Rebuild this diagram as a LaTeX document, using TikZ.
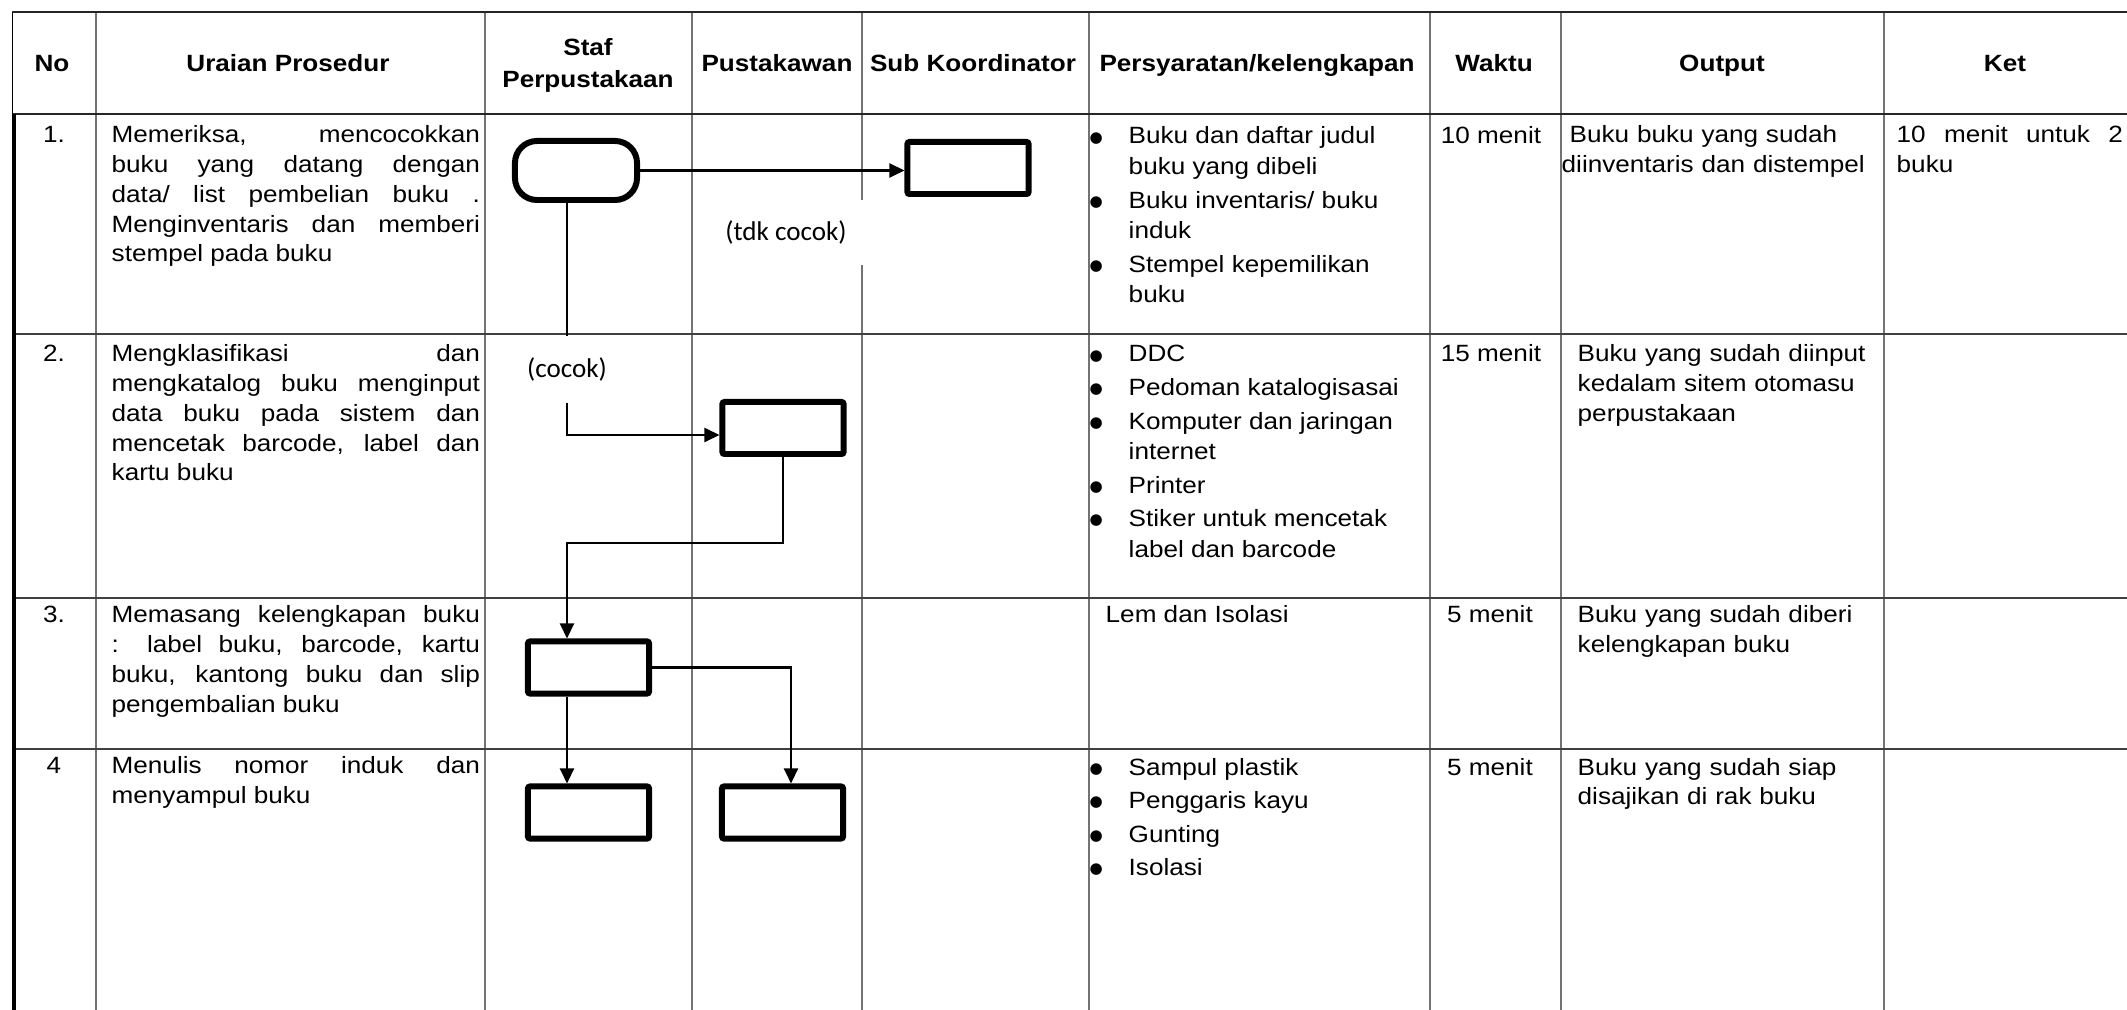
\documentclass[tikz,border=0pt]{standalone}
\usepackage{fontspec}
\setmainfont{Liberation Sans}[FakeStretch=1.11]
\newfontfamily\calfont{Carlito}
\newfontfamily\symfont{DejaVu Sans}
\usetikzlibrary{arrows.meta}
% text sizes used in the table cells
\newcommand\cellfont{\fontsize{6.69pt}{8.45pt}\selectfont}
\newcommand\listfont{\fontsize{6.69pt}{8.68pt}\selectfont}
\newcommand\headfont{\bfseries\fontsize{6.69pt}{9.1pt}\selectfont}
\newcommand\labelfont{\calfont\fontsize{7.7pt}{9pt}\selectfont}
% bullet of the requirement lists
\newcommand\bul{\makebox[0.35cm][l]{\hspace*{-0.04cm}\raisebox{0.5pt}{\symfont\fontsize{4.3pt}{0pt}\selectfont ●}}}
\newcommand\igap{0.85pt}

\begin{document}
\begin{tikzpicture}[x=0.01cm,y=-0.01cm,
  txt/.style={inner sep=0pt, font=\cellfont},
  head/.style={inner sep=0pt, font=\headfont, anchor=base},
  proctext/.style={txt, anchor=base west, text width=3.68cm, align=justify},
  outtext/.style={txt, anchor=base west, text width=3.2cm, align=left},
  listtext/.style={inner sep=0pt, font=\listfont, anchor=base west},
  colline/.style={draw=black!55, line width=0.3pt},
  rowline/.style={draw=black!75, line width=0.4pt},
  frameline/.style={draw=black!85, line width=0.5pt},
  terminal/.style={draw, line width=1.7pt, rounded corners=0.22cm,
    minimum width=1.22cm, minimum height=0.59cm, inner sep=0pt},
  activity/.style={draw, line width=1.7pt, rounded corners=0.02cm,
    minimum width=1.21cm, minimum height=0.52cm, inner sep=0pt},
  lbl/.style={font=\labelfont, fill=white, inner sep=0pt, minimum height=0.65cm},
  link/.style={line width=0.6pt},
  flow/.style={link, -{Triangle[length=0.15cm,width=0.14cm]}}
]
\useasboundingbox (0,0) rectangle (2127,1010);

% ---- table grid ----
\foreach \x in {96,485,692,862,1089,1430,1561,1884}
  \draw[colline] (\x,12) -- (\x,1010);
\foreach \y in {334,598,749}
  \draw[rowline] (12,\y) -- (2127,\y);
\draw[frameline] (12,12) -- (2127,12);
\draw[frameline] (12,114) -- (2127,114);
\draw[line width=0.3pt] (12.3,12) -- (12.3,114);
\draw[line width=0.045cm] (14,114) -- (14,1010);

% ---- header ----
\node[head] (hNo)  at (52,72)   {No};
\node[head] (hUr)  at (288,72)  {Uraian Prosedur};
\node[head, text width=2cm, align=center] (hStaf) at (588,56) {Staf\\Perpustakaan};
\node[head] (hPu)  at (777,72)  {Pustakawan};
\node[head] (hSub) at (973,72)  {Sub Koordinator};
\node[head] (hPer) at (1257,72) {Persyaratan/kelengkapan};
\node[head] (hW)   at (1494,72) {Waktu};
\node[head] (hOut) at (1722,72) {Output};
\node[head] (hKet) at (2005,72) {Ket};

% ---- row numbers ----
\node[txt, anchor=base] (n1) at (54,143) {1.};
\node[txt, anchor=base] (n2) at (54,362) {2.};
\node[txt, anchor=base] (n3) at (54,623) {3.};
\node[txt, anchor=base] (n4) at (54,774) {4};

% ---- procedure descriptions ----
\node[proctext] (u1) at (111,143) {Memeriksa, mencocokkan\linebreak
  buku yang datang dengan\linebreak data/ list pembelian buku .\linebreak
  Menginventaris dan memberi\linebreak stempel pada buku};
\node[proctext] (u2) at (111,362) {Mengklasifikasi dan\linebreak
  mengkatalog buku menginput\linebreak data buku pada sistem dan\linebreak
  mencetak barcode, label dan\linebreak kartu buku};
\node[proctext] (u3) at (111,623) {Memasang kelengkapan buku\linebreak
  : label buku, barcode, kartu\linebreak buku, kantong buku dan slip\linebreak
  pengembalian buku};
\node[proctext] (u4) at (111,774) {Menulis nomor induk dan\linebreak menyampul buku};

% ---- requirements ----
\node[listtext] (p1) at (1093,144) {\begin{tabular}[t]{@{}l@{}l@{}}
  \bul & Buku dan daftar judul\\
       & buku yang dibeli\\[\igap]
  \bul & Buku inventaris/ buku\\
       & induk\\[\igap]
  \bul & Stempel kepemilikan\\
       & buku
  \end{tabular}};
\node[listtext] (p2) at (1093,362) {\begin{tabular}[t]{@{}l@{}l@{}}
  \bul & DDC\\[\igap]
  \bul & Pedoman katalogisasai\\[\igap]
  \bul & Komputer dan jaringan\\
       & internet\\[\igap]
  \bul & Printer\\[\igap]
  \bul & Stiker untuk mencetak\\
       & label dan barcode
  \end{tabular}};
\node[txt, anchor=base west] (p3) at (1105,623) {Lem dan Isolasi};
\node[listtext] (p4) at (1093,775) {\begin{tabular}[t]{@{}l@{}l@{}}
  \bul & Sampul plastik\\[\igap]
  \bul & Penggaris kayu\\[\igap]
  \bul & Gunting\\[\igap]
  \bul & Isolasi
  \end{tabular}};

% ---- time ----
\node[txt, anchor=base] (w1) at (1491,144) {10 menit};
\node[txt, anchor=base] (w2) at (1491,362) {15 menit};
\node[txt, anchor=base] (w3) at (1490,623) {5 menit};
\node[txt, anchor=base] (w4) at (1490,775) {5 menit};

% ---- output ----
\node[outtext] (o1) at (1561,143) {\hspace*{0.08cm}Buku buku yang sudah\\diinventaris dan distempel};
\node[outtext] (o2) at (1577,362) {Buku yang sudah diinput\\kedalam sitem otomasu\\perpustakaan};
\node[outtext] (o3) at (1577,623) {Buku yang sudah diberi\\kelengkapan buku};
\node[outtext] (o4) at (1577,775) {Buku yang sudah siap\\disajikan di rak buku};

% ---- remarks ----
\node[txt, anchor=base west, text width=2.26cm, align=justify] (k1) at (1896,143)
  {10 menit untuk 2\linebreak buku};

% ---- flow symbols ----
\node[terminal] (start) at (576,170.5) {};
\node[activity] (b1) at (968,168) {};
\node[activity] (b2) at (783,428) {};
\node[activity] (b3) at (588.5,667.5) {};
\node[activity] (b4) at (588.5,812.5) {};
\node[activity] (b5) at (782.5,812.5) {};

% ---- branch labels ----
\node[lbl, minimum width=1.56cm] (tdk) at (786,232.5) {(tdk cocok)};
\node[lbl] (cocok) at (567,369.5) {(cocok)};
\coordinate (bend) at (567,543);

% ---- connectors ----
\draw[flow] (start.east) -- (start.east -| b1.west);
\draw[link] (start.south -| cocok.north) -- (cocok.north);
\draw[flow] (cocok.south) |- ([yshift=-0.07cm]b2.west);
\draw[flow] (b2.south) |- (bend) -- (bend |- b3.north);
\draw[flow] (b3.south -| bend) -- (b4.north -| bend);
\draw[flow] (b3.east) -| ([xshift=0.085cm]b5.north);
\end{tikzpicture}
\end{document}
